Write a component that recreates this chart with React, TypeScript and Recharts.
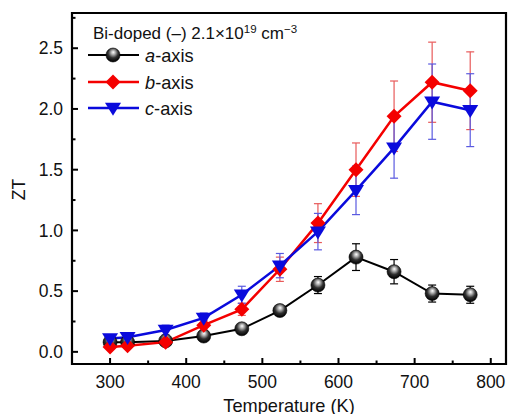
import React from 'react';
import { LineChart, Line, XAxis, YAxis, ErrorBar, ReferenceArea } from 'recharts';

const temps = [300, 323, 373, 423, 473, 523, 573, 623, 673, 723, 773];
const aZT = [0.08, 0.08, 0.09, 0.13, 0.19, 0.34, 0.55, 0.78, 0.66, 0.48, 0.47];
const aErr = [0.01, 0.01, 0.01, 0.02, 0.02, 0.03, 0.07, 0.11, 0.1, 0.07, 0.07];
const bZT = [0.04, 0.05, 0.08, 0.22, 0.35, 0.68, 1.06, 1.5, 1.94, 2.22, 2.15];
const bErr = [0.02, 0.02, 0.02, 0.04, 0.05, 0.1, 0.16, 0.22, 0.29, 0.33, 0.32];
const cZT = [0.11, 0.12, 0.18, 0.28, 0.47, 0.71, 0.99, 1.33, 1.68, 2.06, 1.99];
const cErr = [0.03, 0.03, 0.04, 0.04, 0.07, 0.1, 0.15, 0.2, 0.25, 0.31, 0.3];

const xMajor = [300, 400, 500, 600, 700, 800];
const xMinor = [350, 450, 550, 650, 750];
const yMajor = [0, 0.5, 1, 1.5, 2, 2.5];
const yMinor = [0.25, 0.75, 1.25, 1.75, 2.25, 2.75];

const data = temps.map((t, i) => ({
  T: t,
  a: aZT[i],
  aErr: aErr[i],
  b: bZT[i],
  bErr: bErr[i],
  c: cZT[i],
  cErr: cErr[i],
}));

const FONT = '"Liberation Sans", Arial, Helvetica, sans-serif';
const RED = '#f40000';
const BLUE = '#0a0adc';

const Sphere = ({ cx, cy, r = 7 }: { cx: number; cy: number; r?: number }) => (
  <g>
    <circle cx={cx} cy={cy} r={r} fill="url(#sphereGrad)" stroke="#000" strokeWidth={0.6} />
  </g>
);

const Diamond = ({ cx, cy, s = 7.5 }: { cx: number; cy: number; s?: number }) => (
  <polygon points={`${cx},${cy - s} ${cx + s},${cy} ${cx},${cy + s} ${cx - s},${cy}`} fill={RED} />
);

const TriDown = ({ cx, cy, w = 8, h = 13 }: { cx: number; cy: number; w?: number; h?: number }) => (
  <polygon
    points={`${cx - w},${cy - h * 0.4} ${cx + w},${cy - h * 0.4} ${cx},${cy + h * 0.6}`}
    fill={BLUE}
  />
);

const renderA = (p: any) => <Sphere key={`a${p.index}`} cx={p.cx} cy={p.cy} />;
const renderB = (p: any) => <Diamond key={`b${p.index}`} cx={p.cx} cy={p.cy} />;
const renderC = (p: any) => <TriDown key={`c${p.index}`} cx={p.cx} cy={p.cy} />;

const XTick = (props: any) => {
  const { x, y, payload } = props;
  const v = payload.value;
  const major = xMajor.includes(v);
  return (
    <g>
      <line x1={x} y1={y} x2={x} y2={y - (major ? 6 : 3.5)} stroke="#000" strokeWidth={2} />
      {major && (
        <text x={x} y={y + 23.5} textAnchor="middle" fontSize={17.5} fontFamily={FONT} fill="#111">
          {v}
        </text>
      )}
    </g>
  );
};

const YTick = (props: any) => {
  const { x, y, payload } = props;
  const v = payload.value;
  const major = yMajor.some((m) => Math.abs(m - v) < 1e-6);
  return (
    <g>
      <line x1={x} y1={y} x2={x + (major ? 6 : 3.5)} y2={y} stroke="#000" strokeWidth={2} />
      {major && (
        <text x={x - 9} y={y + 6.2} textAnchor="end" fontSize={17.5} fontFamily={FONT} fill="#111">
          {v.toFixed(1)}
        </text>
      )}
    </g>
  );
};

const XLabel = (props: any) => {
  const vb = props.viewBox || { x: 72, width: 434 };
  return (
    <text x={vb.x + vb.width / 2} y={411.5} textAnchor="middle" fontSize={18.2} fontFamily={FONT} fill="#111">
      Temperature (K)
    </text>
  );
};

const YLabel = (props: any) => {
  const vb = props.viewBox || { y: 13, height: 351 };
  const cy = vb.y + vb.height / 2 + 1;
  return (
    <text
      x={25}
      y={cy}
      transform={`rotate(-90, 25, ${cy})`}
      textAnchor="middle"
      fontSize={17.5}
      fontFamily={FONT}
      fill="#111"
    >
      ZT
    </text>
  );
};

const Legend = () => (
  <svg width={508} height={130} style={{ position: 'absolute', left: 0, top: 0, pointerEvents: 'none' }}>
    <defs>
      <radialGradient id="sphereGrad" cx="50%" cy="38%" r="60%" fx="52%" fy="30%">
        <stop offset="0%" stopColor="#ffffff" />
        <stop offset="25%" stopColor="#b0b0b0" />
        <stop offset="60%" stopColor="#303030" />
        <stop offset="100%" stopColor="#000000" />
      </radialGradient>
    </defs>
    <text x={93} y={39} fontSize={17} fontFamily={FONT} fill="#111">
      Bi-doped (–) 2.1×10
      <tspan dy={-6.5} fontSize={11.5}>19</tspan>
      <tspan dy={6.5}> cm</tspan>
      <tspan dy={-6.5} fontSize={11.5}>−3</tspan>
    </text>
    <line x1={88} y1={55} x2={139} y2={55} stroke="#000" strokeWidth={2} />
    <Sphere cx={113} cy={55} />
    <text x={145} y={61.5} fontSize={18.2} fontFamily={FONT} fill="#111">
      <tspan fontStyle="italic">a</tspan>-axis
    </text>
    <line x1={88} y1={82} x2={139} y2={82} stroke={RED} strokeWidth={2.5} />
    <Diamond cx={113} cy={82} />
    <text x={145} y={88.5} fontSize={18.2} fontFamily={FONT} fill="#111">
      <tspan fontStyle="italic">b</tspan>-axis
    </text>
    <line x1={88} y1={108} x2={139} y2={108} stroke={BLUE} strokeWidth={2.5} />
    <TriDown cx={113} cy={108} />
    <text x={145} y={114.5} fontSize={18.2} fontFamily={FONT} fill="#111">
      <tspan fontStyle="italic">c</tspan>-axis
    </text>
  </svg>
);

export default function App() {
  return (
    <div style={{ position: 'absolute', left: 0, top: 0, width: 508, height: 414, background: '#fff' }}>
      <Legend />
      <LineChart
        width={508}
        height={414}
        data={data}
        margin={{ top: 13, right: 2, bottom: 20, left: 12 }}
        style={{ position: 'absolute', left: 0, top: 0 }}
      >
        <XAxis
          dataKey="T"
          type="number"
          domain={[250, 820]}
          ticks={[...xMajor, ...xMinor].sort((p, q) => p - q)}
          interval={0}
          tick={<XTick />}
          tickLine={false}
          axisLine={false}
          tickSize={0}
          tickMargin={0}
          height={30}
          label={<XLabel />}
        />
        <YAxis
          type="number"
          domain={[-0.1, 2.79]}
          ticks={[...yMajor, ...yMinor].sort((p, q) => p - q)}
          interval={0}
          tick={<YTick />}
          tickLine={false}
          axisLine={false}
          tickSize={0}
          tickMargin={0}
          width={60}
          label={<YLabel />}
        />
        <ReferenceArea
          x1={250}
          x2={820}
          y1={-0.1}
          y2={2.79}
          fill="none"
          fillOpacity={0}
          stroke="#000"
          strokeWidth={2.2}
          ifOverflow="visible"
        />
        <Line
          dataKey="a"
          stroke="#000"
          strokeWidth={2}
          dot={renderA}
          activeDot={false}
          isAnimationActive={false}
        >
          <ErrorBar dataKey="aErr" width={4} stroke="#000" strokeWidth={1.2} />
        </Line>
        <Line
          dataKey="b"
          stroke={RED}
          strokeWidth={2.5}
          dot={renderB}
          activeDot={false}
          isAnimationActive={false}
        >
          <ErrorBar dataKey="bErr" width={4} stroke="#e85a5a" strokeWidth={1.2} />
        </Line>
        <Line
          dataKey="c"
          stroke={BLUE}
          strokeWidth={2.5}
          dot={renderC}
          activeDot={false}
          isAnimationActive={false}
        >
          <ErrorBar dataKey="cErr" width={4} stroke="#5a5ae0" strokeWidth={1.2} />
        </Line>
      </LineChart>
    </div>
  );
}
